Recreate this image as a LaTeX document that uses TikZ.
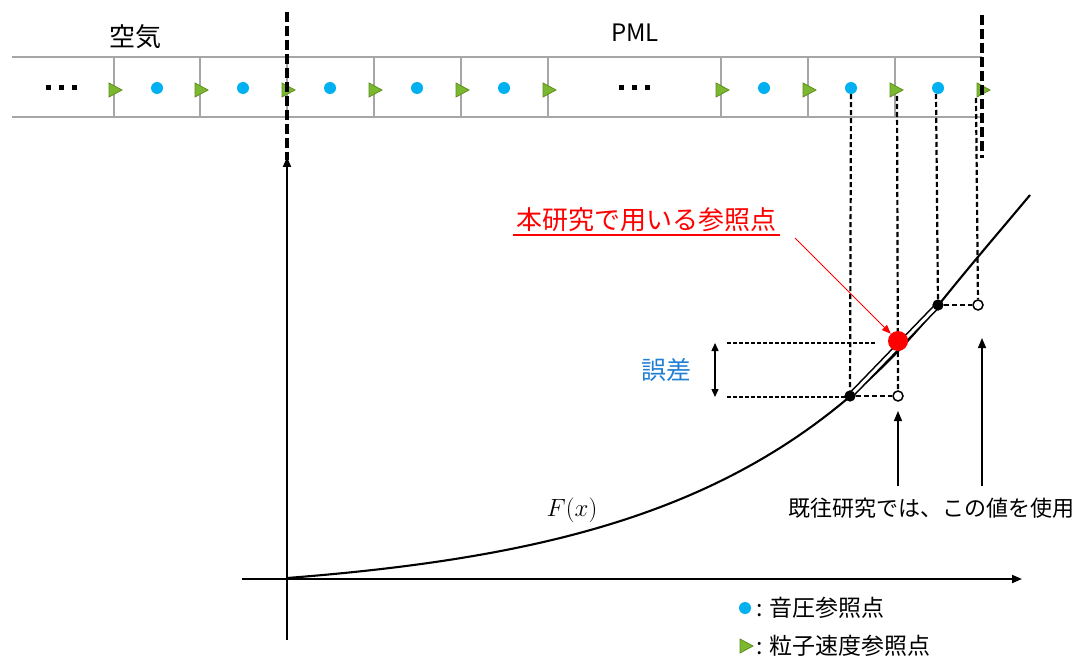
\documentclass[tikz,border=0pt]{standalone}
\usepackage{fontspec}
\newfontfamily\jp{Noto Sans CJK JP}
\usetikzlibrary{arrows.meta}
\definecolor{gridgray}{HTML}{A6A6A6}
\definecolor{dotblue}{HTML}{00B0F0}
\definecolor{trigreen}{HTML}{7CB82F}
\definecolor{trigreendark}{HTML}{5E8E1E}
\definecolor{errblue}{HTML}{1F7FD4}
\begin{document}
\begin{tikzpicture}[x=1pt,y=-1pt,
  gridline/.style={draw=gridgray,line width=1.6},
  bounddash/.style={line width=3.2,dash pattern=on 10 off 4},
  refdash/.style={line width=2.2,dash pattern=on 5 off 3},
  errdash/.style={line width=1.1,dash pattern=on 4 off 2},
  axisline/.style={line width=1.9,-{Triangle[length=10,width=8]}},
  uparrow/.style={line width=1.5,-{Triangle[length=10,width=8]}},
  pdot/.style={circle,fill=dotblue,inner sep=0,minimum size=12},
  blackdot/.style={circle,fill=black,inner sep=0,minimum size=11},
  opendot/.style={circle,draw=black,fill=white,line width=1.5,inner sep=0,minimum size=10},
  reddot/.style={circle,fill=red,inner sep=0,minimum size=20},
  txt/.style={font=\jp,inner sep=0},
  vtri/.pic={\filldraw[fill=trigreen,draw=trigreendark,line width=0.8] (-5,-7) -- (8,0) -- (-5,7) -- cycle;},
  ellip/.pic={\foreach \k in {-13,0,13}{\fill (\k-2.5,-2.5) rectangle (\k+2.5,2.5);}}
]
\useasboundingbox (0,0) rectangle (1083,660);

% strip
\draw[gridline] (12,57) -- (982,57);
\draw[gridline] (12,117) -- (982,117);
\foreach \xx in {114,200,287,374,461,548,721,808,895}{
  \draw[gridline] (\xx,57) -- (\xx,117);
}
\pic at (61,88) {ellip};
\pic at (634,88) {ellip};
\foreach \xx in {114,200,287,374,461,548,721,808,895,982}{
  \pic at (\xx,90) {vtri};
}
\foreach \xx/\nm in {157/p1,243/p2,330/p3,417/p4,504/p5,764/p6,851/p7,938/p8}{
  \node[pdot] (\nm) at (\xx,88) {};
}

% labels top
\node[txt,font=\jp\fontsize{26}{26}\selectfont] (air) at (135,37) {空気};
\node[txt,font=\jp\fontsize{24}{24}\selectfont] (pml) at (635,33) {PML};

% boundaries
\coordinate (b1t) at (287,12); \coordinate (b1b) at (287,160);
\coordinate (b2t) at (982,15); \coordinate (b2b) at (982,158);
\draw[bounddash] (b1t) -- (b1b);
\draw[bounddash] (b2t) -- (b2b);

% axes
\coordinate (ybot) at (287,640); \coordinate (ytop) at (287,157);
\coordinate (xl) at (242,579); \coordinate (xr) at (1022,579);
\draw[axisline] (ybot) -- (ytop);
\draw[axisline] (xl) -- (xr);

% curve
\draw[line width=2.1,line join=round] plot[domain=287:938,samples=80] (\x,{578-18.2*(exp((\x-287)/235)-1)})
  .. controls (968,268) and (1000,231) .. (1030,195);
\node[font=\fontsize{27}{27}\selectfont,inner sep=0] (fx) at (572,510) {$F(x)$};

% points on curve
\node[blackdot] (c1) at (850,396) {};
\node[blackdot] (c2) at (938,305) {};
\node[opendot] (o1) at (898,396) {};
\node[opendot] (o2) at (978,305) {};
\draw[line width=1.6,double=white,double distance=3] (c1.center) -- (c2.center);
\node[blackdot] at (c1) {};
\node[blackdot] at (c2) {};

% reference dashed lines
\coordinate (t1) at (897,96);
\coordinate (t2) at (976,98);
\coordinate (t3) at (936,94);
\draw[refdash] (p7) -- (c1);
\draw[refdash] (t1) -- (o1);
\draw[refdash] (t3) -- (c2);
\draw[refdash] (t2) -- (o2);
\draw[refdash] (c1) -- (o1);
\draw[refdash] (c2) -- (o2);

\node[reddot] (rd) at (898,341) {};

% error
\coordinate (e1l) at (727,343); \coordinate (e1r) at (875,343);
\coordinate (e2l) at (727,397); \coordinate (e2r) at (850,397);
\draw[errdash] (e1l) -- (e1r);
\draw[errdash] (e2l) -- (e2r);
\coordinate (ea) at (715,343); \coordinate (eb) at (715,397);
\draw[line width=1.4,{Triangle[length=8,width=7]}-{Triangle[length=8,width=7]}] (ea) -- (eb);
\node[txt,font=\jp\fontsize{25}{25}\selectfont,text=errblue] (err) at (666,370) {誤差};

% red label
\node[txt,font=\jp\fontsize{26}{26}\selectfont,text=red] (rl) at (646,220) {本研究で用いる参照点};
\draw[red,line width=1.5] (513,235) -- (780,235);
\coordinate (ra) at (795,238);
\draw[red,line width=1,-{Triangle[length=9,width=7]}] (ra) -- (rd);

% previous study arrows
\coordinate (a1) at (898,486); \coordinate (a2) at (982,486);
\coordinate (a1t) at (898,411); \coordinate (a2t) at (982,338);
\draw[uparrow] (a1) -- (a1t);
\draw[uparrow] (a2) -- (a2t);
\node[txt,font=\jp\fontsize{22}{22}\selectfont] (prev) at (931,508) {既往研究では、この値を使用};

% legend
\node[pdot] (lg1) at (745,608) {};
\node[txt,font=\jp\fontsize{23}{23}\selectfont,anchor=west] at (756,608) {: 音圧参照点};
\pic at (745,646) {vtri};
\node[txt,font=\jp\fontsize{23}{23}\selectfont,anchor=west] at (756,646) {: 粒子速度参照点};
\end{tikzpicture}
\end{document}
